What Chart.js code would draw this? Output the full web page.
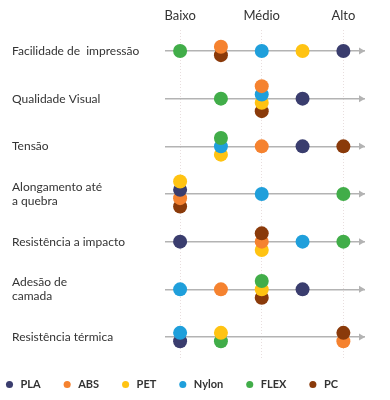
<!DOCTYPE html>
<html>
<head>
<meta charset="utf-8">
<script src="https://cdn.jsdelivr.net/npm/chart.js@4.4.0/dist/chart.umd.min.js"></script>
<style>
    html, body { margin: 0; padding: 0; background: #fff; }
    #wrap { width: 390px; height: 400px; }
</style>
</head>
<body>
<div id="wrap"><canvas id="chart"></canvas></div>
<script>
const properties = [
    'Facilidade de  impressão',
    'Qualidade Visual',
    'Tensão',
    ['Alongamento até', 'a quebra'],
    'Resistência a impacto',
    ['Adesão de', 'camada'],
    'Resistência térmica'
];
const levels = ['Baixo', '', 'Médio', '', 'Alto'];
const materials = ['PLA', 'ABS', 'PET', 'Nylon', 'FLEX', 'PC'];
const materialColors = ['#3a3d6e', '#f5822f', '#ffc312', '#1f9fdb', '#41ad49', '#8a3a0a'];

// nivel 1 (Baixo) .. 5 (Alto), uma posicao por propriedade
const PLA   = [5, 4, 4, 1, 1, 4, 1];
const ABS   = [2, 3, 3, 1, 3, 2, 5];
const PET   = [4, 3, 2, 1, 3, 3, 2];
const Nylon = [3, 3, 2, 3, 4, 1, 1];
const FLEX  = [1, 2, 2, 5, 5, 3, 2];
const PC    = [2, 3, 5, 1, 3, 3, 5];

// ordem de empilhamento (de cima para baixo) quando materiais empatam
const stackOrder = [
    ['ABS', 'PC'],
    ['ABS', 'Nylon', 'PET', 'PC'],
    ['FLEX', 'Nylon', 'PET'],
    ['PET', 'PLA', 'ABS', 'PC'],
    ['PC', 'ABS', 'PET'],
    ['FLEX', 'PET', 'PC'],
    ['Nylon', 'PLA', 'PET', 'FLEX', 'PC', 'ABS']
];

const values = { PLA, ABS, PET, Nylon, FLEX, PC };
const STEP = 0.175;
const GRAY = '#b3b3b3';

function rank(r, m) {
    const i = stackOrder[r].indexOf(m);
    return i < 0 ? 100 + materials.indexOf(m) : i;
}

// legend-only datasets
const legendSets = materials.map((m, i) => ({
    label: m,
    data: [],
    backgroundColor: materialColors[i],
    borderColor: materialColors[i],
    borderWidth: 0,
    pointStyle: 'circle'
}));

// one dataset per property row, so the upper dot of a stack is drawn last
const rowSets = properties.map((_, r) => {
    const byLevel = {};
    materials.forEach(m => {
        const v = values[m][r];
        (byLevel[v] = byLevel[v] || []).push(m);
    });
    const points = [];
    const colors = [];
    Object.keys(byLevel).forEach(v => {
        const group = byLevel[v].sort((a, b) => rank(r, a) - rank(r, b));
        const n = group.length;
        for (let i = n - 1; i >= 0; i--) {
            points.push({ x: Number(v), y: r + (i - (n - 1) / 2) * STEP });
            colors.push(materialColors[materials.indexOf(group[i])]);
        }
    });
    return {
        label: '',
        data: points,
        backgroundColor: colors,
        borderWidth: 0,
        pointRadius: 7
    };
});

const arrows = {
    id: 'arrows',
    beforeDatasetsDraw(chart) {
        const { ctx, chartArea, scales: { y } } = chart;
        ctx.save();
        ctx.fillStyle = GRAY;
        y.ticks.forEach(t => {
            const py = y.getPixelForValue(t.value);
            ctx.beginPath();
            ctx.moveTo(chartArea.right, py);
            ctx.lineTo(chartArea.right - 6, py - 3.5);
            ctx.lineTo(chartArea.right - 6, py + 3.5);
            ctx.closePath();
            ctx.fill();
        });
        ctx.restore();
    }
};

const legendShift = {
    id: 'legendShift',
    afterLayout(chart) {
        chart.legend.left = -17;
    }
};

new Chart(document.getElementById('chart'), {
    type: 'scatter',
    data: { datasets: legendSets.concat(rowSets) },
    options: {
        responsive: true,
        maintainAspectRatio: false,
        animation: false,
        events: [],
        layout: { padding: { left: 12, right: 0, top: 0, bottom: 0 } },
        scales: {
            x: {
                type: 'linear',
                position: 'top',
                min: 0.63,
                max: 5.53,
                afterBuildTicks: s => { s.ticks = levels.map((_, i) => ({ value: i + 1 })); },
                afterFit: s => { s.height = 30; },
                ticks: {
                    callback: v => levels[v - 1],
                    color: '#333',
                    font: { family: 'Lato', size: 13 },
                    padding: 6,
                    maxRotation: 0,
                    autoSkip: false
                },
                grid: {
                    color: c => (c.tick && levels[c.tick.value - 1]) ? '#e8dede' : 'transparent',
                    drawTicks: false,
                    lineWidth: 1
                },
                border: { display: false, dash: [1, 2] }
            },
            y: {
                type: 'linear',
                reverse: true,
                min: -0.44,
                max: 6.44,
                afterBuildTicks: s => { s.ticks = properties.map((_, i) => ({ value: i })); },
                afterFit: s => { s.width = 153; },
                ticks: {
                    callback: v => properties[v],
                    crossAlign: 'far',
                    color: '#333',
                    font: { family: 'Lato', size: 12 },
                    autoSkip: false
                },
                grid: { color: GRAY, lineWidth: 1.5, drawTicks: false },
                border: { display: false }
            },
            y2: {
                position: 'right',
                afterFit: s => { s.width = 25; },
                ticks: { display: false },
                grid: { display: false },
                border: { display: false }
            }
        },
        plugins: {
            tooltip: { enabled: false },
            legend: {
                position: 'bottom',
                align: 'start',
                maxHeight: 42,
                labels: {
                    usePointStyle: true,
                    boxWidth: 11,
                    boxHeight: 5,
                    padding: 21,
                    color: '#333',
                    font: { family: 'Lato', size: 11, weight: 'bold' },
                    filter: item => item.datasetIndex < materials.length
                }
            }
        }
    },
    plugins: [arrows, legendShift]
});
</script>
</body>
</html>
